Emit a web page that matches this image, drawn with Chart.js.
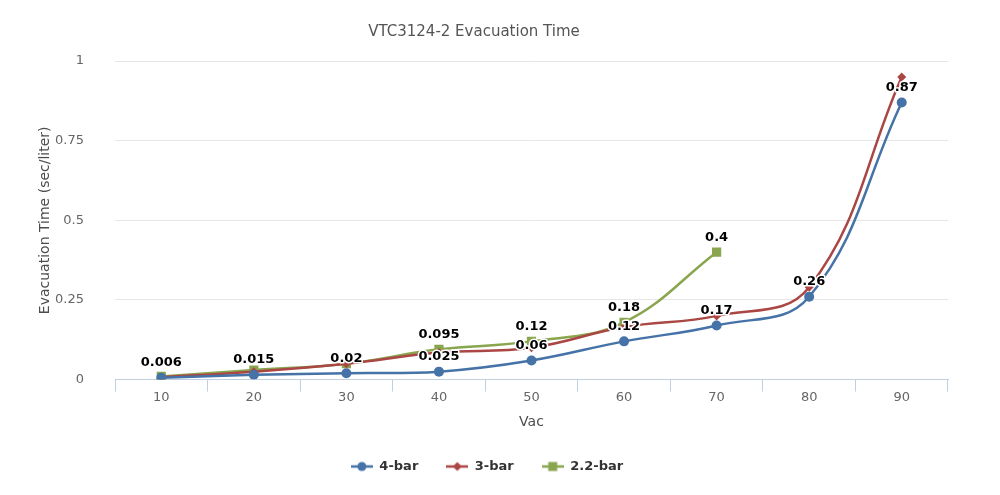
<!DOCTYPE html>
<html>
<head>
<meta charset="utf-8">
<script src="https://cdn.jsdelivr.net/npm/chart.js@4/dist/chart.umd.min.js"></script>
<style>
  html, body { margin: 0; padding: 0; background: #fff; }
  #wrap { width: 1000px; height: 495px; }
</style>
</head>
<body>
<div id="wrap"><canvas id="c" width="1000" height="495"></canvas></div>
<script>
const categories = ['10', '20', '30', '40', '50', '60', '70', '80', '90'];
const bar4 = [0.006, 0.015, 0.02, 0.025, 0.06, 0.12, 0.17, 0.26, 0.87];
const bar3 = [0.008, 0.025, 0.05, 0.085, 0.1, 0.165, 0.2, 0.29, 0.95];
const bar22 = [0.01, 0.03, 0.05, 0.095, 0.12, 0.18, 0.4];
const yTicks = [0, 0.25, 0.5, 0.75, 1];
const seriesNames = ['4-bar', '3-bar', '2.2-bar'];
const labelledSeries = [0, 2];

const FONT = '"DejaVu Sans", Verdana, sans-serif';
const colors = ['#4572A7', '#AA4643', '#89A54E'];
const markers = ['circle', 'rectRot', 'rect'];
const markerRadius = [5, 4.5, 6.5];

function legendIcon(color, style) {
  const cv = document.createElement('canvas');
  cv.width = 22; cv.height = 12;
  const g = cv.getContext('2d');
  g.strokeStyle = color; g.lineWidth = 2.5;
  g.beginPath(); g.moveTo(0, 6); g.lineTo(22, 6); g.stroke();
  g.fillStyle = color;
  g.beginPath();
  if (style === 'circle') { g.arc(11, 6, 4.5, 0, Math.PI * 2); }
  else if (style === 'rectRot') { g.moveTo(11, 1.5); g.lineTo(15.5, 6); g.lineTo(11, 10.5); g.lineTo(6.5, 6); g.closePath(); }
  else { g.rect(6.5, 1.5, 9, 9); }
  g.fill();
  return cv;
}

const pointLabels = {
  id: 'pointLabels',
  afterLayout(chart) {
    // center the legend on the whole canvas rather than the padded area
    if (chart.legend) chart.legend.right += 26;
  },
  afterDatasetsDraw(chart) {
    const ctx = chart.ctx;
    const boxes = [];
    ctx.save();
    ctx.font = 'bold 13px ' + FONT;
    ctx.textAlign = 'center';
    ctx.textBaseline = 'middle';
    ctx.lineJoin = 'round';
    labelledSeries.forEach(di => {
      const meta = chart.getDatasetMeta(di);
      const ds = chart.data.datasets[di];
      meta.data.forEach((pt, i) => {
        const v = ds.data[i];
        if (v == null) return;
        const t = String(v);
        const w = ctx.measureText(t).width;
        const x = pt.x, y = pt.y - 15;
        const b = { l: x - w / 2 - 2, r: x + w / 2 + 2, t: y - 8, b: y + 8 };
        if (boxes.some(o => !(b.r < o.l || b.l > o.r || b.b < o.t || b.t > o.b))) return;
        boxes.push(b);
        ctx.strokeStyle = '#fff'; ctx.lineWidth = 3;
        ctx.strokeText(t, x, y);
        ctx.fillStyle = '#000';
        ctx.fillText(t, x, y);
      });
    });
    ctx.restore();
  }
};

const data = {
  labels: categories,
  datasets: [bar4, bar3, bar22].map((arr, i) => ({
    label: seriesNames[i],
    data: arr,
    borderColor: colors[i],
    backgroundColor: colors[i],
    pointBackgroundColor: colors[i],
    pointBorderColor: colors[i],
    pointBorderWidth: 0,
    pointStyle: markers[i],
    pointRadius: markerRadius[i],
    pointHoverRadius: markerRadius[i],
    borderWidth: 2.5,
    tension: 0.4,
    fill: false
  }))
};

new Chart(document.getElementById('c'), {
  type: 'line',
  data,
  plugins: [pointLabels],
  options: {
    responsive: false,
    animation: false,
    devicePixelRatio: 1,
    layout: { padding: { left: 0, right: 52, top: 0, bottom: 12 } },
    plugins: {
      tooltip: { enabled: false },
      title: {
        display: true,
        text: 'VTC3124-2 Evacuation Time',
        color: '#555555',
        font: { family: FONT, size: 15, weight: 'normal' },
        padding: { top: 23, bottom: 20 }
      },
      legend: {
        position: 'bottom',
        labels: {
          color: '#333333',
          font: { family: FONT, size: 13, weight: 'bold' },
          usePointStyle: true,
          pointStyleWidth: 22,
          padding: 28,
          generateLabels(chart) {
            return chart.data.datasets.map((ds, i) => ({
              text: ds.label,
              fillStyle: colors[i],
              strokeStyle: colors[i],
              lineWidth: 0,
              pointStyle: legendIcon(colors[i], markers[i]),
              datasetIndex: i,
              hidden: false,
              fontColor: '#333333'
            }));
          }
        }
      }
    },
    scales: {
      x: {
        type: 'category',
        offset: true,
        grid: { display: true, offset: true, drawOnChartArea: false, drawTicks: true, tickLength: 12, color: '#C0D0E0', lineWidth: 1 },
        border: { display: true, color: '#C0D0E0', width: 1 },
        ticks: { color: '#666666', font: { family: FONT, size: 13 }, padding: -2, maxRotation: 0 },
        title: { display: true, text: 'Vac', color: '#4D4D4D', font: { family: FONT, size: 14 }, padding: { top: 11, bottom: 1 } }
      },
      y: {
        min: 0, max: 1,
        afterFit(scale) { scale.width = 115; },
        afterBuildTicks(scale) { scale.ticks = yTicks.map(v => ({ value: v })); },
        grid: { color: '#E6E6E6', lineWidth: 1, drawTicks: false },
        border: { display: false },
        ticks: { color: '#666666', font: { family: FONT, size: 13 }, padding: 31, callback: v => String(v) },
        title: { display: true, text: 'Evacuation Time (sec/liter)', color: '#4D4D4D', font: { family: FONT, size: 14 }, padding: { top: 37, bottom: 0 } }
      }
    }
  }
});
</script>
</body>
</html>
